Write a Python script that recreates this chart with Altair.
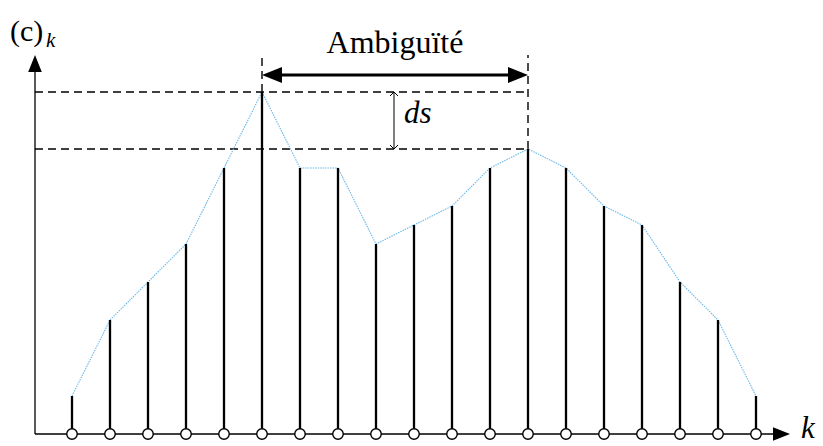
import altair as alt
import pandas as pd

# Sequence (c)_k sampled at k = 0..18
k = list(range(19))
c = [2, 6, 8, 10, 14, 18, 14, 14, 10, 11, 12, 14, 15, 14, 12, 11, 8, 6, 2]

# Main peak and the competing secondary peak
peak_k, peak_c = 5, 18
second_k, second_c = 12, 15

# Canvas geometry: one step in k and one unit of c in pixels, origin position
W, H = 823, 446
PX, PY = 38.0, 19.0
X0, Y0 = 72.0, 434.0
xdom = [(0 - X0) / PX, (W - X0) / PX]
ydom = [(Y0 - H) / PY, Y0 / PY]

ax_k = (35 - X0) / PX          # k at which the vertical axis is drawn
x_tip = (790 - X0) / PX        # end of horizontal axis arrow
y_tip = (Y0 - 55) / PY         # end of vertical axis arrow
top_guide = (Y0 - 55) / PY     # top of the vertical dashed guides
span_c = (Y0 - 75) / PY        # height of the "Ambiguïté" double arrow
ds_k = (394 - X0) / PX         # position of the ds arrow
head = 20 / PX                 # arrowhead length in k units

SERIF = "Liberation Serif"

xs = alt.Scale(domain=xdom, nice=False, zero=False)
ys = alt.Scale(domain=ydom, nice=False, zero=False)


def X(f="x"):
    return alt.X(f, type="quantitative", scale=xs, axis=None)


def Y(f="y"):
    return alt.Y(f, type="quantitative", scale=ys, axis=None)


seq = pd.DataFrame({"x": k, "y": c, "y0": [0] * len(k)})

# Dashed guide lines
guides = pd.DataFrame({
    "x": [ax_k, ax_k, peak_k, second_k],
    "x2": [second_k, second_k, peak_k, second_k],
    "y": [peak_c, second_c, peak_c, second_c],
    "y2": [peak_c, second_c, top_guide, top_guide],
})
guide_layer = alt.Chart(guides).mark_rule(
    color="black", strokeWidth=1.4, strokeDash=[8, 5]
).encode(x=X(), x2="x2", y=Y(), y2="y2")

# Coordinate axes
axes = pd.DataFrame({
    "x": [ax_k, ax_k], "x2": [x_tip - 0.3, ax_k],
    "y": [0, 0], "y2": [0, y_tip - 0.6],
})
axes_layer = alt.Chart(axes).mark_rule(color="black", strokeWidth=1.3).encode(
    x=X(), x2="x2", y=Y(), y2="y2"
)

RIGHT = "M0,0 L-2,-0.8 L-2,0.8 Z"
LEFT = "M0,0 L2,-0.8 L2,0.8 Z"
UP = "M0,0 L-0.8,2 L0.8,2 Z"

axis_heads = pd.DataFrame({
    "x": [x_tip, ax_k], "y": [0, y_tip], "shape": [RIGHT, UP]
})
axis_head_layer = alt.Chart(axis_heads).mark_point(
    filled=True, color="black", opacity=1, size=289, strokeWidth=0
).encode(x=X(), y=Y(), shape=alt.Shape("shape:N", scale=None))

# Envelope joining the tops of the stems
env_layer = alt.Chart(seq).mark_line(
    color="#6ab8ea", strokeWidth=1.1, strokeDash=[1.5, 1]
).encode(x=X(), y=Y())

# Stems
stem_layer = alt.Chart(seq).mark_rule(
    color="black", strokeWidth=2.3
).encode(x=X(), y=Y("y0"), y2="y")

# Open circles on the k axis
dot_layer = alt.Chart(seq).mark_point(
    shape="circle", filled=True, fill="white", stroke="black",
    strokeWidth=1.4, size=110, opacity=1
).encode(x=X(), y=Y("y0"))

# Double arrow spanning the ambiguity between the two peaks
span = pd.DataFrame({"x": [peak_k + head], "x2": [second_k - head],
                     "y": [span_c]})
span_layer = alt.Chart(span).mark_rule(color="black", strokeWidth=3).encode(
    x=X(), x2="x2", y=Y()
)
span_heads = pd.DataFrame({
    "x": [peak_k, second_k], "y": [span_c, span_c], "shape": [LEFT, RIGHT]
})
span_head_layer = alt.Chart(span_heads).mark_point(
    filled=True, color="black", opacity=1, size=400, strokeWidth=0
).encode(x=X(), y=Y(), shape=alt.Shape("shape:N", scale=None))

# ds arrow between the two peak levels
ds = pd.DataFrame({"x": [ds_k], "y": [second_c], "y2": [peak_c]})
ds_layer = alt.Chart(ds).mark_rule(color="black", strokeWidth=1).encode(
    x=X(), y=Y(), y2="y2"
)
ds_heads = pd.DataFrame({
    "x": [ds_k, ds_k], "y": [peak_c, second_c],
    "shape": ["M-1,1 L0,0 L1,1", "M-1,-1 L0,0 L1,-1"],
})
ds_head_layer = alt.Chart(ds_heads).mark_point(
    filled=False, color="black", opacity=1, size=64, strokeWidth=1
).encode(x=X(), y=Y(), shape=alt.Shape("shape:N", scale=None))


def label(text, px, py, size, align="left", italic=False):
    df = pd.DataFrame({"x": [(px - X0) / PX], "y": [(Y0 - py) / PY],
                       "t": [text]})
    props = dict(font=SERIF, fontSize=size, align=align,
                 baseline="alphabetic", color="black")
    if italic:
        props["fontStyle"] = "italic"
    return alt.Chart(df).mark_text(**props).encode(x=X(), y=Y(), text="t:N")


texts = [
    label("(c)", 10, 41, 30),
    label("k", 46, 47, 21, italic=True),
    label("Ambiguïté", 395, 53, 32, align="center"),
    label("ds", 404, 123, 31, italic=True),
    label("k", 801, 438, 31, italic=True),
]

chart = alt.layer(
    guide_layer, axes_layer, axis_head_layer, env_layer, stem_layer,
    dot_layer, span_layer, span_head_layer, ds_layer, ds_head_layer, *texts
).properties(
    width=W, height=H, padding=0, autosize=alt.AutoSizeParams(type="none"),
    background="white"
).configure_view(stroke=None)

chart.save("out.html", embed_options={"renderer": "svg", "actions": False})
